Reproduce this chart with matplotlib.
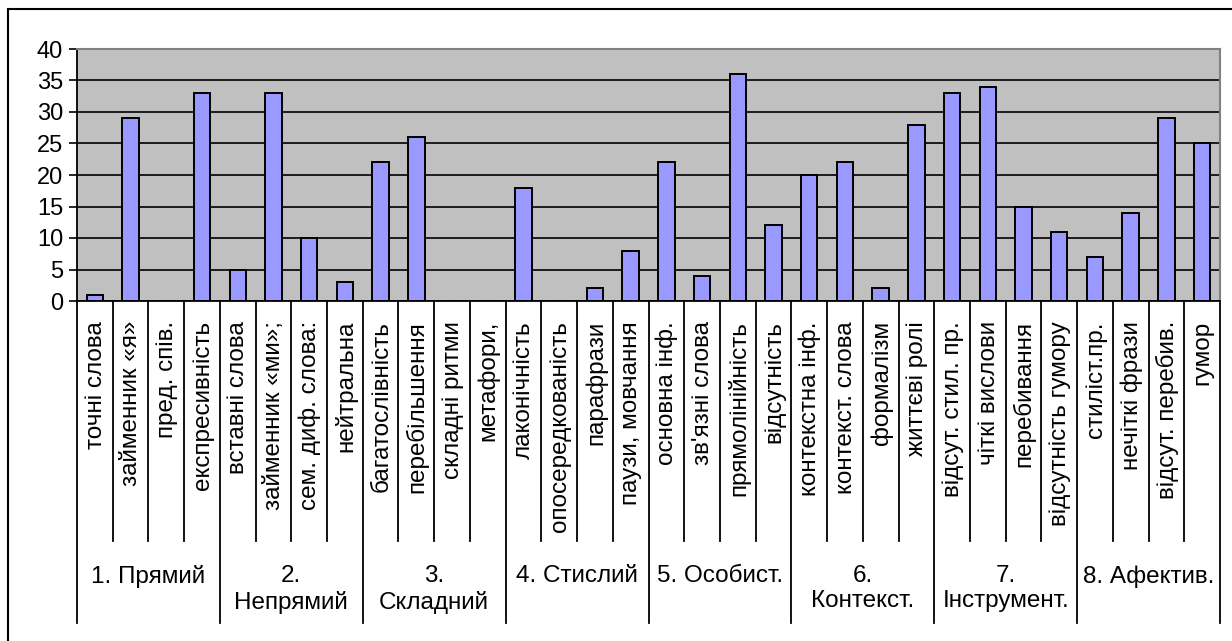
import matplotlib.pyplot as plt
from matplotlib.patches import Rectangle
from matplotlib.transforms import blended_transform_factory

plt.rcParams['font.family'] = ['Liberation Sans', 'DejaVu Sans']

# дані
groups = ['1. Прямий', '2.\nНепрямий', '3.\nСкладний', '4. Стислий',
          '5. Особист.', '6.\nКонтекст.', '7.\nІнструмент.', '8. Афектив.']
labels = ['точні слова', 'займенник «я»', 'пред. спів.', 'експресивність',
          'вставні слова', 'займенник «ми»;', 'сем. диф. слова:', 'нейтральна',
          'багатослівність', 'перебільшення', 'складні ритми', 'метафори,',
          'лаконічність', 'опосередкованість', 'парафрази', 'паузи, мовчання',
          'основна інф.', "зв'язні слова", 'прямолінійність', 'відсутність',
          'контекстна інф.', 'контекст. слова', 'формалізм', 'життєві ролі',
          'відсут. стил. пр.', 'чіткі вислови', 'перебивання', 'відсутність гумору',
          'стиліст.пр.', 'нечіткі фрази', 'відсут. перебив.', 'гумор']
values = [1, 29, 0, 33, 5, 33, 10, 3,
          22, 26, 0, 0, 18, 0, 2, 8,
          22, 4, 36, 12, 20, 22, 2, 28,
          33, 34, 15, 11, 7, 14, 29, 25]
per_group = 4

W, H = 1232, 641
fig = plt.figure(figsize=(W / 100, H / 100), dpi=100)

# область графіка в пікселях
x0, x1, y_top, y_zero = 77, 1220, 49, 301
ax = fig.add_axes([x0 / W, 1 - y_zero / H, (x1 - x0) / W, (y_zero - y_top) / H])
ax.set_facecolor('#C0C0C0')

n = len(values)
xs = list(range(n))
ax.bar(xs, values, width=0.46, color='#9999FF', edgecolor='black', linewidth=1.4, zorder=3)
ax.set_xlim(-0.5, n - 0.5)
ax.set_ylim(0, 40)
ax.set_yticks(range(0, 41, 5))
ax.tick_params(axis='y', labelsize=17, length=6, width=1.2, pad=4)
ax.set_xticks([])
ax.yaxis.grid(True, color='black', linewidth=1.2, zorder=1)
ax.set_axisbelow(True)
for s in ['top', 'right']:
    ax.spines[s].set_color('#808080')
    ax.spines[s].set_linewidth(1.5)
for s in ['left', 'bottom']:
    ax.spines[s].set_color('black')
    ax.spines[s].set_linewidth(1.3)

ah = y_zero - y_top


def py(y):
    return (y_zero - y) / ah


tr = blended_transform_factory(ax.transData, ax.transAxes)

# підписи категорій
for i, lab in enumerate(labels):
    ax.text(i + 0.02, py(321), lab, transform=tr, rotation=90, ha='center', va='top',
            fontsize=17.5, clip_on=False)
    if i % per_group != 0:
        ax.plot([i - 0.5, i - 0.5], [0, py(541)], transform=tr, color='black',
                linewidth=1.3, clip_on=False)

# групи
for g, name in enumerate(groups):
    left = g * per_group - 0.5
    ax.plot([left, left], [0, py(623)], transform=tr, color='black',
            linewidth=1.3, clip_on=False)
    ax.text(left + per_group / 2, py(565), name, transform=tr, ha='center', va='top',
            fontsize=17.5, linespacing=1.2, clip_on=False)
ax.plot([n - 0.5, n - 0.5], [0, py(623)], transform=tr, color='black',
        linewidth=1.3, clip_on=False)

# рамка
fig.patches.append(Rectangle((8 / W, -0.1), 1.2, 1 - 9 / H + 0.1, transform=fig.transFigure,
                             fill=False, edgecolor='black', linewidth=1.5))

fig.savefig('out.png', dpi=100)
